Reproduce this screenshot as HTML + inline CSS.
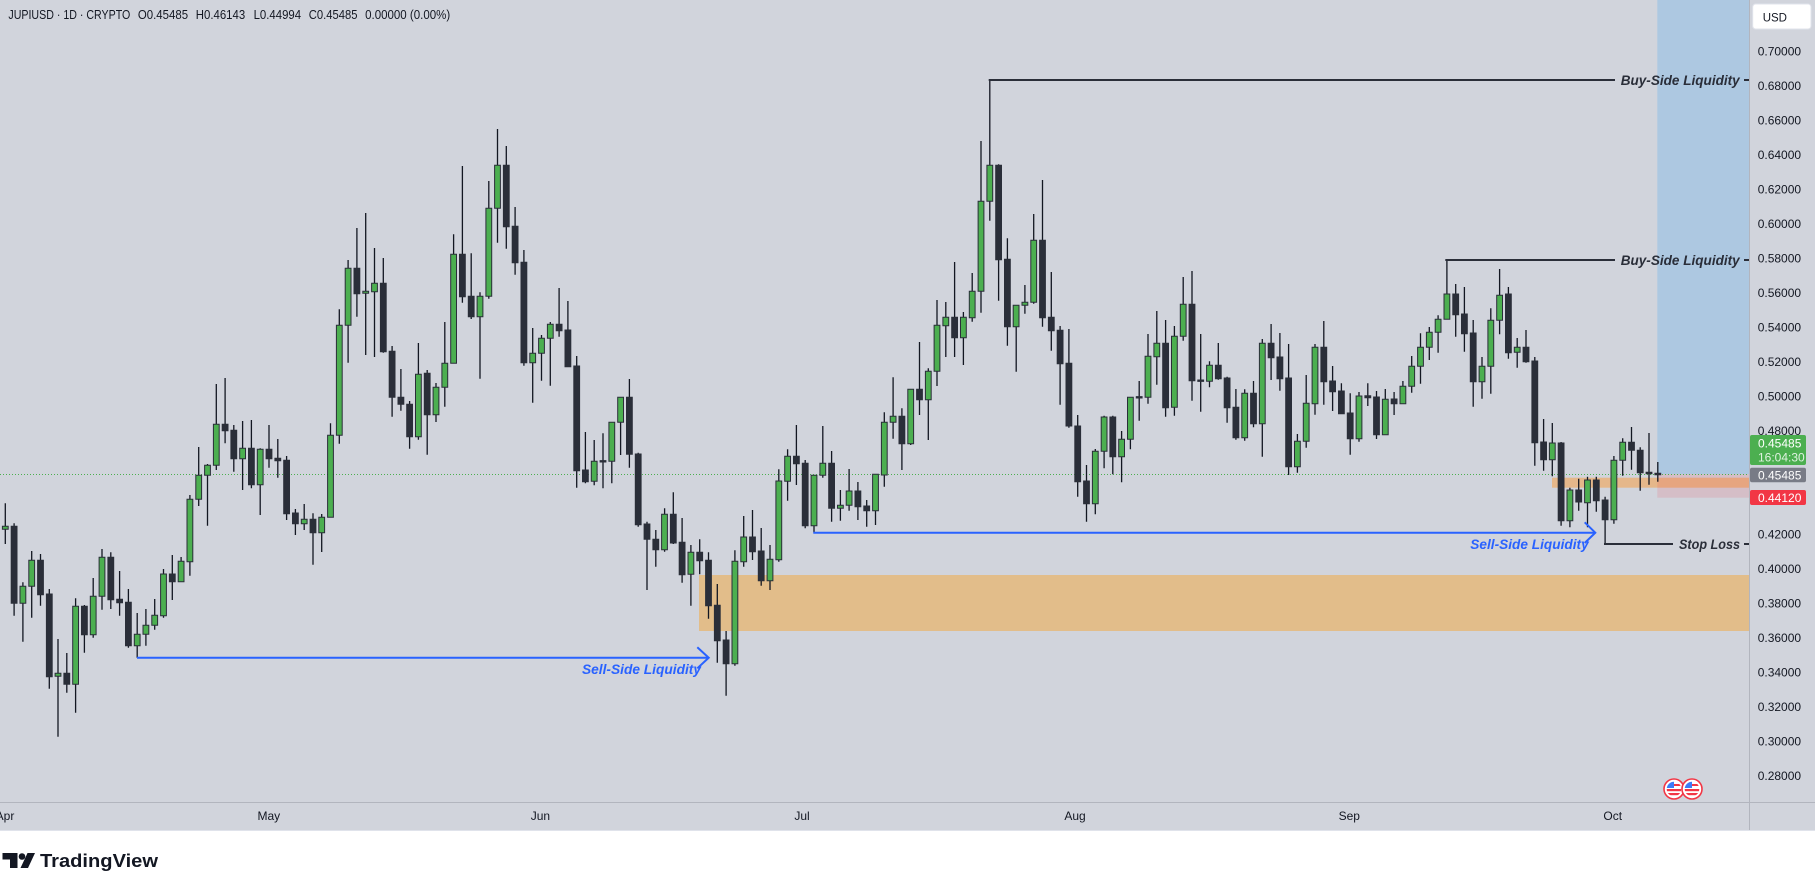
<!DOCTYPE html>
<html><head><meta charset="utf-8"><style>
html,body{margin:0;padding:0;background:#fff;width:1815px;height:890px;overflow:hidden}
svg{display:block}
text{font-family:"Liberation Sans",Arial,sans-serif}
</style></head><body>
<svg width="1815" height="890" viewBox="0 0 1815 890" xmlns="http://www.w3.org/2000/svg">
<defs><clipPath id="fc"><circle cx="0" cy="0" r="7.3"/></clipPath></defs>
<rect x="0" y="0" width="1815" height="830" fill="#d1d4dc"/>
<rect x="0" y="830" width="1815" height="60" fill="#ffffff"/>
<line x1="0" y1="830.5" x2="1815" y2="830.5" stroke="#e0e3eb" stroke-width="1"/>
<!-- zones -->
<rect x="699" y="575" width="1051" height="56" fill="#e2bd8a"/>
<rect x="1552" y="477.7" width="198" height="10" fill="#e5b78a"/>
<rect x="1657.3" y="0" width="92.7" height="474" fill="#adc8e1"/>
<rect x="1657.3" y="474" width="92.7" height="23.7" fill="rgba(242,54,69,0.14)"/>
<line x1="0" y1="474.5" x2="1750" y2="474.5" stroke="#4caf50" stroke-width="1" stroke-dasharray="1 2"/>
<!-- wicks -->
<path fill="none" stroke="#131722" stroke-width="1.3" d="M5.3 503.3V544M14.1 523.3V615.7M22.9 582.3V641.7M31.7 551V617.7M40.5 554V605.7M49.3 589V688.7M58 639V736.7M66.8 653V692.7M75.6 598.3V712.7M84.4 605V652.7M93.2 578V637.7M102 549V609.7M110.8 552.3V609M119.6 571V615.7M128.4 589V647.7M137.2 613V657.7M145.9 609V645.7M154.7 599V629.7M163.5 569V617.7M172.3 555V600M181.1 557V581.7M189.9 495V575.7M198.7 447V506M207.5 464V525.7M216.3 384V470M225.1 378V443.3M233.8 425V471.7M242.6 421V490M251.4 420V488.3M260.2 448.3V515M269 425V467.7M277.8 439V477.7M286.6 456V520M295.4 509V535M304.2 504V530M313 513.3V564.7M321.7 514V552M330.5 423.3V517.3M339.3 309.3V443.7M348.1 260V362.7M356.9 228V316.7M365.7 213V355M374.5 248V357M383.3 258V352.7M392.1 346V416.7M400.9 369V410.7M409.6 401V448.7M418.4 343V439.7M427.2 370V454.7M436 383V422M444.8 322V406.7M453.6 234.3V363.3M462.4 166V302.7M471.2 253.3V319M480 292.3V378.7M488.8 181V298.7M497.5 129V242.7M506.3 146V248.7M515.1 207V274.7M523.9 250V365.7M532.7 328V402.7M541.5 335V380.7M550.3 322V385.7M559.1 288V336.7M567.9 301V366.7M576.7 356V487.7M585.4 432V483.3M594.2 440V485.3M603 433.3V488.3M611.8 422.3V483.3M620.6 397.3V455M629.4 379V467.7M638.2 452.7V526.7M647 521.7V590M655.8 530V566.7M664.6 508.3V551.7M673.3 492.3V544M682.1 518V582.7M690.9 545V605.7M699.7 539.3V574.3M708.5 552.3V618.7M717.3 584V662.7M726.1 631V695.7M734.9 550.3V665.7M743.7 516V566.7M752.5 510V560M761.2 528V585.7M770 545V590M778.8 469.3V561.7M787.6 449.3V500.7M796.4 425V485M805.2 460V528.3M814 475.3V532.7M822.8 426V477.7M831.6 451V521.7M840.4 490V520.7M849.1 469V510.7M857.9 482V520M866.7 500V526.7M875.5 474.3V525M884.3 412.3V486.7M893.1 377.3V438.7M901.9 408.3V470M910.7 389.3V445M919.5 342V415M928.3 368.3V440M937 300V386M945.8 302V357M954.6 262V357M963.4 312V365M972.2 273V321.7M981 141V312.7M989.8 80V220.7M998.6 164.3V300.7M1007.4 238.3V345.7M1016.2 305.3V371.7M1024.9 285V313.7M1033.7 214V303.7M1042.5 180V326.7M1051.3 272V350.7M1060.1 326V404.7M1068.9 329V427.7M1077.7 415V496.7M1086.5 465V521.7M1095.3 449V514.3M1104.1 415.7V468.3M1112.8 415.7V474.3M1121.6 431V482.3M1130.4 397.3V449.3M1139.2 381V420.7M1148 334V403.7M1156.8 311V384.7M1165.6 320V416.7M1174.4 326V415.7M1183.2 277V340.7M1192 271V400.7M1200.7 334V411.7M1209.5 361.3V387.3M1218.3 343V379.7M1227.1 376.7V422.7M1235.9 389V439.7M1244.7 389.3V440.7M1253.5 381V427.3M1262.3 339V456.7M1271.1 324V380M1279.9 333V390.7M1288.6 344V475M1297.4 434V472.7M1306.2 375V447.7M1315 344V414.7M1323.8 321V404.7M1332.6 366V411M1341.4 383.3V413.7M1350.2 393.3V454.7M1359 392V441.7M1367.8 383.3V406M1376.5 391V439M1385.3 389V434.7M1394.1 392V415M1402.9 381V403.7M1411.7 356V392.7M1420.5 333.3V383.7M1429.3 327V360M1438.1 315.3V352.7M1446.9 260V319.3M1455.7 284V336.7M1464.4 287V351.7M1473.2 320V406.7M1482 357V398.7M1490.8 308.3V393.7M1499.6 269V334.3M1508.4 287V358.7M1517.2 338V367.7M1526 330V362.7M1534.8 357V465.7M1543.6 419V470.7M1552.3 423V476.3M1561.1 442V525.7M1569.9 487.7V527.3M1578.7 478.7V510.7M1587.5 476.7V527.3M1596.3 476.7V511.7M1605.1 496.7V544M1613.9 456V523.7M1622.7 438.3V475.7M1631.5 427V469.7M1640.2 447.3V490.7M1649 433V484.7M1657.8 462V481.7"/>
<!-- green bodies -->
<path fill="#4caf50" stroke="#2a2e39" stroke-width="1" d="M2.4 526.3h5.8v3h-5.8zM20 586.3h5.8v17h-5.8zM28.8 560.3h5.8v26h-5.8zM55.1 673.3h5.8v3h-5.8zM72.7 606.3h5.8v78h-5.8zM90.3 596.3h5.8v38.4h-5.8zM99.1 557.3h5.8v39h-5.8zM134.3 634.3h5.8v11.4h-5.8zM143 625.3h5.8v9h-5.8zM151.8 615.3h5.8v10h-5.8zM160.6 574h5.8v41.7h-5.8zM178.2 561.3h5.8v20.4h-5.8zM187 499.3h5.8v62.4h-5.8zM195.8 475.3h5.8v24h-5.8zM204.6 465.3h5.8v10h-5.8zM213.4 424.3h5.8v41h-5.8zM239.7 448.3h5.8v10.4h-5.8zM257.3 449.3h5.8v35.4h-5.8zM301.3 519.3h5.8v4.4h-5.8zM318.8 517.3h5.8v15.4h-5.8zM327.6 435.3h5.8v82h-5.8zM336.4 325.3h5.8v110h-5.8zM345.2 268.3h5.8v57h-5.8zM362.8 291.3h5.8v2h-5.8zM371.6 283.3h5.8v8.4h-5.8zM415.5 374.3h5.8v62.4h-5.8zM433.1 387.3h5.8v27.4h-5.8zM441.9 363.3h5.8v24h-5.8zM450.7 254.3h5.8v109h-5.8zM477.1 296.3h5.8v20.4h-5.8zM485.9 208.3h5.8v88h-5.8zM494.6 165.3h5.8v43h-5.8zM529.8 353.3h5.8v9.4h-5.8zM538.6 338.3h5.8v15h-5.8zM547.4 324.3h5.8v14h-5.8zM591.3 461.3h5.8v20h-5.8zM608.9 422.3h5.8v39h-5.8zM617.7 397.3h5.8v25h-5.8zM661.6 514.3h5.8v35.4h-5.8zM688 552.3h5.8v22h-5.8zM732 561.3h5.8v102.4h-5.8zM740.8 537h5.8v24.7h-5.8zM767.1 559.3h5.8v21.4h-5.8zM775.9 481h5.8v78.7h-5.8zM784.7 456.3h5.8v25h-5.8zM811.1 475.3h5.8v50.4h-5.8zM819.9 463.3h5.8v12h-5.8zM837.5 505.3h5.8v3h-5.8zM846.2 491h5.8v14.3h-5.8zM872.6 474.3h5.8v36.4h-5.8zM881.4 422.3h5.8v52.7h-5.8zM890.2 416.3h5.8v6h-5.8zM907.8 389.3h5.8v54.4h-5.8zM925.4 371.3h5.8v28.4h-5.8zM934.1 325.3h5.8v46h-5.8zM942.9 317.3h5.8v8.4h-5.8zM960.5 317.3h5.8v20.4h-5.8zM969.3 291.3h5.8v26.4h-5.8zM978.1 201.3h5.8v90h-5.8zM986.9 165.3h5.8v36h-5.8zM1013.2 305.3h5.8v21.4h-5.8zM1022 302.3h5.8v3h-5.8zM1030.8 240.3h5.8v62h-5.8zM1092.4 451.3h5.8v52.4h-5.8zM1101.2 417h5.8v34.3h-5.8zM1118.7 439.3h5.8v17.4h-5.8zM1127.5 397.3h5.8v42h-5.8zM1145.1 356.3h5.8v41h-5.8zM1153.9 343.3h5.8v13.4h-5.8zM1171.5 336.3h5.8v71h-5.8zM1180.3 304.3h5.8v32h-5.8zM1206.6 365.3h5.8v16h-5.8zM1241.8 393.3h5.8v44.4h-5.8zM1259.4 343.3h5.8v80.4h-5.8zM1294.5 441.3h5.8v25.4h-5.8zM1303.3 403.3h5.8v38h-5.8zM1312.1 347.3h5.8v56.4h-5.8zM1356.1 396h5.8v42.7h-5.8zM1382.4 399.3h5.8v35.4h-5.8zM1400 386.3h5.8v17.4h-5.8zM1408.8 366.3h5.8v20h-5.8zM1417.6 347.3h5.8v19h-5.8zM1426.4 332.3h5.8v15h-5.8zM1435.2 319.3h5.8v13h-5.8zM1444 294h5.8v25.3h-5.8zM1479.1 366.3h5.8v15.4h-5.8zM1487.9 320.3h5.8v46h-5.8zM1496.7 295.3h5.8v25h-5.8zM1514.3 347.3h5.8v5h-5.8zM1549.4 443h5.8v16.7h-5.8zM1567 490h5.8v30.7h-5.8zM1584.6 480h5.8v22.7h-5.8zM1611 460.3h5.8v59.4h-5.8zM1619.8 442.3h5.8v18h-5.8z"/>
<!-- dark bodies -->
<path fill="#2a2e39" stroke="#2a2e39" stroke-width="1" d="M11.2 526.3h5.8v77h-5.8zM37.6 560.3h5.8v34.4h-5.8zM46.4 594h5.8v82.7h-5.8zM63.9 673.3h5.8v11h-5.8zM81.5 606.3h5.8v28.4h-5.8zM107.9 557.3h5.8v42.4h-5.8zM116.7 599.3h5.8v3.4h-5.8zM125.5 602.3h5.8v43.4h-5.8zM169.4 574h5.8v7.7h-5.8zM222.2 424.3h5.8v6.4h-5.8zM230.9 430.3h5.8v28.4h-5.8zM248.5 448.3h5.8v36.4h-5.8zM266.1 449.3h5.8v9.4h-5.8zM274.9 458.3h5.8v2.4h-5.8zM283.7 460.3h5.8v53.4h-5.8zM292.5 513h5.8v10.7h-5.8zM310.1 519.3h5.8v13.4h-5.8zM354 268.3h5.8v25.4h-5.8zM380.4 283.3h5.8v68.4h-5.8zM389.2 351.3h5.8v46h-5.8zM398 397.3h5.8v7h-5.8zM406.7 404.3h5.8v32.4h-5.8zM424.3 373.3h5.8v41.4h-5.8zM459.5 254.3h5.8v42.4h-5.8zM468.3 296.3h5.8v20.4h-5.8zM503.4 165.3h5.8v61.4h-5.8zM512.2 226.3h5.8v36.4h-5.8zM521 262.3h5.8v100.4h-5.8zM556.2 324.3h5.8v6.4h-5.8zM565 330h5.8v36.7h-5.8zM573.8 366h5.8v104.7h-5.8zM582.5 470h5.8v11.7h-5.8zM600.1 460.6h5.8v1.4h-5.8zM626.5 397.3h5.8v57h-5.8zM635.3 454h5.8v70.7h-5.8zM644.1 524h5.8v15.3h-5.8zM652.9 539.3h5.8v10.4h-5.8zM670.4 514.3h5.8v28.7h-5.8zM679.2 542.3h5.8v32.4h-5.8zM696.8 552.3h5.8v8.4h-5.8zM705.6 560.3h5.8v45.4h-5.8zM714.4 605.3h5.8v35.4h-5.8zM723.2 640h5.8v23.7h-5.8zM749.6 537h5.8v14.7h-5.8zM758.3 551h5.8v29.7h-5.8zM793.5 456.3h5.8v7.4h-5.8zM802.3 463.3h5.8v62.4h-5.8zM828.7 463.3h5.8v45h-5.8zM855 491h5.8v15.7h-5.8zM863.8 506h5.8v4.7h-5.8zM899 416.3h5.8v27.4h-5.8zM916.6 389.3h5.8v10.4h-5.8zM951.7 317.3h5.8v20.4h-5.8zM995.7 165.3h5.8v94.4h-5.8zM1004.5 259.3h5.8v67.4h-5.8zM1039.6 240.3h5.8v77.4h-5.8zM1048.4 317.3h5.8v13.4h-5.8zM1057.2 330.3h5.8v33.4h-5.8zM1066 363.3h5.8v62.7h-5.8zM1074.8 426h5.8v55.7h-5.8zM1083.6 481h5.8v22.7h-5.8zM1109.9 417h5.8v39.7h-5.8zM1136.3 396.6h5.8v1.4h-5.8zM1162.7 343.3h5.8v64.4h-5.8zM1189.1 304.3h5.8v76.4h-5.8zM1197.8 380h5.8v1.4h-5.8zM1215.4 365.3h5.8v13.4h-5.8zM1224.2 378h5.8v29.7h-5.8zM1233 407.3h5.8v30.4h-5.8zM1250.6 393.3h5.8v30.4h-5.8zM1268.2 343.3h5.8v14.4h-5.8zM1277 357h5.8v21.7h-5.8zM1285.7 378h5.8v88.7h-5.8zM1320.9 347.3h5.8v34.4h-5.8zM1329.7 381h5.8v10.7h-5.8zM1338.5 391h5.8v22.7h-5.8zM1347.3 413h5.8v25.7h-5.8zM1364.9 395.7h5.8v2h-5.8zM1373.6 397h5.8v37.7h-5.8zM1391.2 399h5.8v4.7h-5.8zM1452.8 294h5.8v20.7h-5.8zM1461.5 314h5.8v19.7h-5.8zM1470.3 333h5.8v48.7h-5.8zM1505.5 294h5.8v58.7h-5.8zM1523.1 347.3h5.8v14.4h-5.8zM1531.9 361h5.8v81.7h-5.8zM1540.7 442h5.8v17.7h-5.8zM1558.2 443h5.8v77.7h-5.8zM1575.8 490h5.8v12h-5.8zM1593.4 480h5.8v20.7h-5.8zM1602.2 500h5.8v19.7h-5.8zM1628.6 442.3h5.8v8h-5.8zM1637.3 450.3h5.8v22.4h-5.8zM1646.1 472.3h5.8v1.4h-5.8zM1654.9 473.3h5.8v1.4h-5.8z"/>
<!-- annotations: buy-side / stop loss -->
<g stroke="#2a2e39" stroke-width="2" fill="none">
<line x1="988.7" y1="80" x2="1615" y2="80"/>
<line x1="1744" y1="80" x2="1749" y2="80"/>
<line x1="1445.3" y1="260" x2="1615" y2="260"/>
<line x1="1744" y1="260" x2="1749" y2="260"/>
<line x1="1604" y1="544" x2="1673" y2="544"/>
<line x1="1744" y1="544" x2="1749" y2="544"/>
</g>
<g font-weight="bold" font-style="italic" font-size="14" fill="#2a2e39">
<text x="1620.7" y="85" textLength="119" lengthAdjust="spacingAndGlyphs">Buy-Side Liquidity</text>
<text x="1620.7" y="265" textLength="119" lengthAdjust="spacingAndGlyphs">Buy-Side Liquidity</text>
<text x="1679" y="549" textLength="61" lengthAdjust="spacingAndGlyphs">Stop Loss</text>
</g>
<!-- sell-side -->
<g stroke="#2962ff" stroke-width="2" fill="none" stroke-linejoin="miter">
<line x1="137" y1="657.7" x2="708" y2="657.7"/>
<polyline points="697.3,647.3 708.7,657.7 697.3,668.3"/>
<line x1="813.3" y1="532.7" x2="1594.5" y2="532.7"/>
<polyline points="1584.7,522.3 1595.3,532.7 1584.7,543"/>
</g>
<g font-weight="bold" font-style="italic" font-size="14" fill="#2962ff">
<text x="582" y="674" textLength="119" lengthAdjust="spacingAndGlyphs">Sell-Side Liquidity</text>
<text x="1470.3" y="549" textLength="118.4" lengthAdjust="spacingAndGlyphs">Sell-Side Liquidity</text>
</g>
<!-- header -->
<g font-size="13" fill="#131722">
<text x="8.4" y="19" textLength="121.9" lengthAdjust="spacingAndGlyphs">JUPIUSD · 1D · CRYPTO</text>
<text x="137.9" y="19" textLength="50.2" lengthAdjust="spacingAndGlyphs">O0.45485</text>
<text x="195.8" y="19" textLength="49.4" lengthAdjust="spacingAndGlyphs">H0.46143</text>
<text x="253.6" y="19" textLength="47.5" lengthAdjust="spacingAndGlyphs">L0.44994</text>
<text x="308.8" y="19" textLength="48.7" lengthAdjust="spacingAndGlyphs">C0.45485</text>
<text x="365.1" y="19" textLength="85.1" lengthAdjust="spacingAndGlyphs">0.00000 (0.00%)</text>
</g>
<!-- flags -->
<g transform="translate(1674,789)">
<circle r="10" fill="#fff" stroke="#f23645" stroke-width="1.6"/>
<g clip-path="url(#fc)"><rect x="-8" y="-8" width="16" height="16" fill="#fff"/><rect x="-8" y="-8" width="8" height="7" fill="#3d7bf7"/><rect x="0" y="-5" width="8" height="2" fill="#f23645"/><rect x="-8" y="0" width="16" height="2.2" fill="#f23645"/><rect x="-8" y="4" width="16" height="2.2" fill="#f23645"/></g>
</g>
<g transform="translate(1692,789)">
<circle r="10" fill="#fff" stroke="#f23645" stroke-width="1.6"/>
<g clip-path="url(#fc)"><rect x="-8" y="-8" width="16" height="16" fill="#fff"/><rect x="-8" y="-8" width="8" height="7" fill="#3d7bf7"/><rect x="0" y="-5" width="8" height="2" fill="#f23645"/><rect x="-8" y="0" width="16" height="2.2" fill="#f23645"/><rect x="-8" y="4" width="16" height="2.2" fill="#f23645"/></g>
</g>
<!-- axes -->
<rect x="1750" y="0" width="65" height="830" fill="#d1d4dc"/>
<line x1="1749.5" y1="0" x2="1749.5" y2="830" stroke="#b2b5be" stroke-width="1"/>
<line x1="0" y1="802.5" x2="1815" y2="802.5" stroke="#b2b5be" stroke-width="1"/>
<g font-size="12" fill="#131722">
<text x="1757.7" y="55.3">0.70000</text>
<text x="1757.7" y="89.8">0.68000</text>
<text x="1757.7" y="124.3">0.66000</text>
<text x="1757.7" y="158.8">0.64000</text>
<text x="1757.7" y="193.3">0.62000</text>
<text x="1757.7" y="227.8">0.60000</text>
<text x="1757.7" y="262.3">0.58000</text>
<text x="1757.7" y="296.8">0.56000</text>
<text x="1757.7" y="331.3">0.54000</text>
<text x="1757.7" y="365.8">0.52000</text>
<text x="1757.7" y="400.3">0.50000</text>
<text x="1757.7" y="434.8">0.48000</text>
<text x="1757.7" y="538.3">0.42000</text>
<text x="1757.7" y="572.8">0.40000</text>
<text x="1757.7" y="607.3">0.38000</text>
<text x="1757.7" y="641.8">0.36000</text>
<text x="1757.7" y="676.3">0.34000</text>
<text x="1757.7" y="710.8">0.32000</text>
<text x="1757.7" y="745.3">0.30000</text>
<text x="1757.7" y="779.8">0.28000</text>
</g>
<!-- price tags -->
<rect x="1750" y="435" width="56" height="30" rx="2" fill="#4caf50"/>
<text x="1758" y="447.6" font-size="12" fill="#ffffff">0.45485</text>
<text x="1758" y="461.6" font-size="12" fill="#dff2e0">16:04:30</text>
<rect x="1750" y="467.7" width="56" height="14.6" rx="2" fill="#787b86"/>
<text x="1758" y="479.3" font-size="12" fill="#ffffff">0.45485</text>
<rect x="1750" y="490" width="56" height="15" rx="2" fill="#f23645"/>
<text x="1758" y="501.8" font-size="12" fill="#ffffff">0.44120</text>
<!-- USD -->
<rect x="1752.7" y="4" width="58.3" height="25" rx="3" fill="#ffffff" stroke="#e0e3eb" stroke-width="1"/>
<text x="1762.7" y="21.5" font-size="11.5" fill="#131722">USD</text>
<!-- time labels -->
<g font-size="12" fill="#131722" text-anchor="middle">
<text x="5" y="820">Apr</text>
<text x="268.8" y="820">May</text>
<text x="540.4" y="820">Jun</text>
<text x="802" y="820">Jul</text>
<text x="1075" y="820">Aug</text>
<text x="1349.3" y="820">Sep</text>
<text x="1612.7" y="820">Oct</text>
</g>
<!-- TradingView logo -->
<g fill="#131722">
<path d="M2.5 853H17.5V868H10V859.5H2.5Z"/>
<circle cx="22" cy="856.5" r="3.3"/>
<path d="M27.5 853H35L28 868H20.5Z"/>
<text x="40" y="867" font-size="18.5" font-weight="bold" textLength="118" lengthAdjust="spacingAndGlyphs">TradingView</text>
</g>
</svg>
</body></html>
